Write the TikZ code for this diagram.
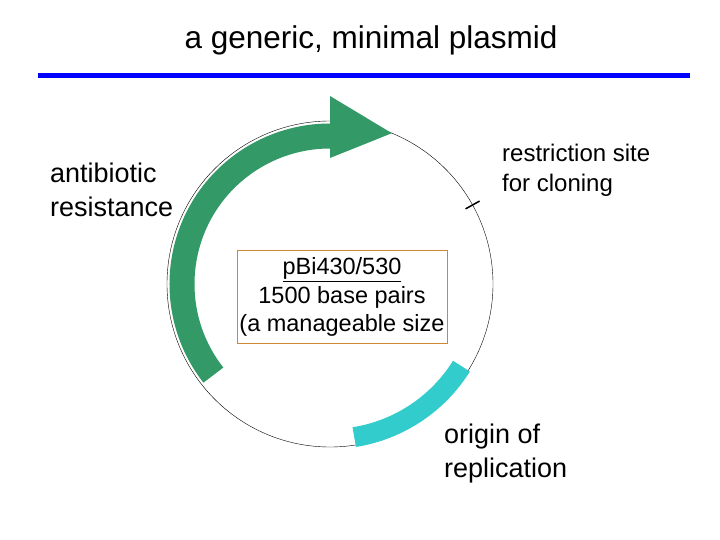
\documentclass[tikz,border=0pt]{standalone}
\usepackage{fontspec}
\setmainfont{Liberation Sans}
\usetikzlibrary{positioning,calc}
\definecolor{resgreen}{HTML}{339966}
\definecolor{oricyan}{HTML}{33CCCC}
\definecolor{boxorange}{HTML}{CC8833}
\begin{document}
\begin{tikzpicture}[x=1pt,y=1pt,
    % styles for the labels
    label_text/.style={
        align=left,
        inner sep=0pt,
        font=\fontsize{27}{34}\selectfont
    },
    info_box/.style={
        rectangle,
        draw=boxorange,
        align=center,
        inner sep=0pt,
        minimum height=93pt,
        minimum width=210pt,
        font=\fontsize{23.5}{28.5}\selectfont
    }
]
\useasboundingbox (0,0) rectangle (720,-540);

% Title and rule
\node (title) at (371,-40) {\fontsize{31.5}{36}\selectfont a generic, minimal plasmid};
\draw[line width=5pt, blue] (38,-76) -- (690,-76);

% Plasmid circle
\coordinate (c) at (330,-284);
\draw[thin] (c) circle (163);

% Antibiotic resistance gene
\draw[resgreen, line width=25pt] ($(c)+(218:148)$) arc (218:90:148);
\fill[resgreen] ($(c)+(90:188)$) -- ($(c)+(67.7:163)$) -- ($(c)+(90:126)$) -- cycle;

% Origin of replication
\draw[oricyan, line width=20pt] ($(c)+(-81:155)$) arc (-81:-32:155);

% Restriction site tick
\draw[line width=1.5pt] ($(c)+(29:155)$) -- ($(c)+(29:171)$);

% Labels
\node[label_text, anchor=west] (abr) at (50,-190) {antibiotic\\resistance};
\node[label_text, anchor=west, font=\fontsize{24}{30}\selectfont] (rsite) at (502,-170) {restriction site\\for cloning};
\node[label_text, anchor=west] (ori) at (444,-454) {origin of\\replication};
\node[info_box] (info) at (342,-297) {\underline{pBi430/530}\\1500 base pairs\\(a manageable size};

\end{tikzpicture}
\end{document}
